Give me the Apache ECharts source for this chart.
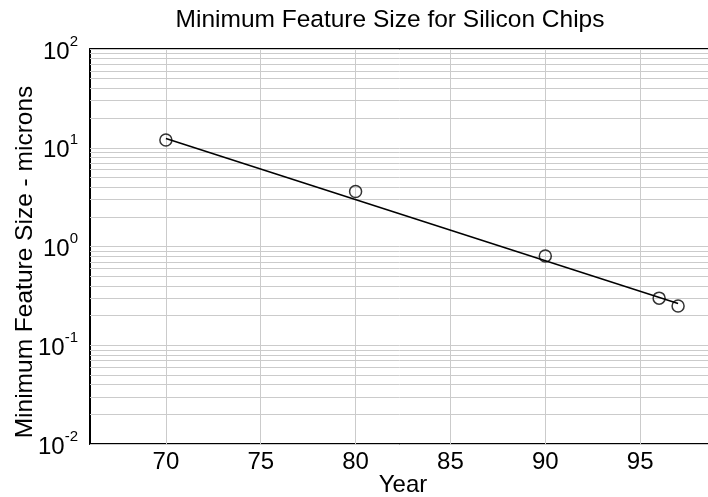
<!DOCTYPE html>
<html>
<head>
<meta charset="utf-8">
<script src="https://cdn.jsdelivr.net/npm/echarts@6/dist/echarts.min.js"></script>
<style>
  html, body { margin: 0; padding: 0; background: #ffffff; }
  #chart { width: 708px; height: 497px; }
</style>
</head>
<body>
<div id="chart"></div>
<script>
// Measured minimum feature sizes (microns) by year
const years = [70, 80, 90, 96, 97];
const featureSize = [12, 3.6, 0.8, 0.3, 0.25];

// Exponential trend line end points
const fitYears = [70, 97];
const fitSize = [12.4, 0.265];

// Axis ticks
const xTicks = [70, 75, 80, 85, 90, 95, 100];
const yDecades = [0.01, 0.1, 1, 10, 100];

// Minor log grid positions: 2..9 within each decade
const yMinor = [];
for (let d = 0; d < yDecades.length - 1; d++) {
  for (let k = 2; k <= 9; k++) yMinor.push(+(k * yDecades[d]).toPrecision(3));
}

const FONT = '"Liberation Sans", Arial, Helvetica, sans-serif';
const GRID_COLOR = '#cbcbcb';

const chart = echarts.init(document.getElementById('chart'), null, { renderer: 'canvas' });

const gridLines = []
  .concat(xTicks.map(v => ({ xAxis: v })))
  .concat(yMinor.map(v => ({ yAxis: v })))
  .concat(yDecades.map(v => ({ yAxis: v })));

chart.setOption({
  animation: false,
  backgroundColor: '#ffffff',
  // the plot box runs past the right edge of the canvas
  grid: { left: 90, top: 49, width: 645, height: 395, outerBoundsMode: 'none', containLabel: false },
  xAxis: [
    {
      type: 'value', min: 66, max: 100, position: 'bottom',
      axisLine: { show: true, onZero: false, lineStyle: { color: '#000', width: 2 } },
      axisTick: { show: true, inside: true, length: 6, customValues: xTicks, lineStyle: { color: '#000', width: 1 } },
      axisLabel: { show: true, customValues: xTicks, margin: 6, color: '#000', fontSize: 24, fontFamily: FONT },
      splitLine: { show: false }
    },
    {
      type: 'value', min: 66, max: 100, position: 'top',
      axisLine: { show: true, onZero: false, lineStyle: { color: '#000', width: 2 } },
      axisTick: { show: true, inside: true, length: 6, customValues: xTicks, lineStyle: { color: '#000', width: 1 } },
      axisLabel: { show: false },
      splitLine: { show: false }
    }
  ],
  yAxis: {
    type: 'log', logBase: 10, min: 0.01, max: 100,
    axisLine: { show: true, onZero: false, lineStyle: { color: '#000', width: 2 } },
    axisTick: { show: true, inside: true, length: 6, lineStyle: { color: '#000', width: 1 } },
    axisLabel: {
      show: true, margin: 12, color: '#000',
      formatter: function (v) {
        const e = Math.round(Math.log10(v));
        return '{b|10}{s|' + e + '}';
      },
      rich: {
        b: { fontSize: 24, fontFamily: FONT, color: '#000', lineHeight: 30, verticalAlign: 'bottom' },
        s: { fontSize: 15, fontFamily: FONT, color: '#000', lineHeight: 30, verticalAlign: 'top' }
      }
    },
    splitLine: { show: false },
    minorTick: { show: false }
  },
  series: [
    {
      name: 'grid',
      type: 'line',
      data: [],
      silent: true,
      z: 0,
      markLine: {
        silent: true,
        symbol: ['none', 'none'],
        animation: false,
        label: { show: false },
        emphasis: { disabled: true },
        lineStyle: { color: GRID_COLOR, width: 1, type: 'solid' },
        data: gridLines
      }
    },
    {
      name: 'trend',
      type: 'line',
      data: fitYears.map((x, i) => [x, fitSize[i]]),
      showSymbol: false,
      symbol: 'none',
      lineStyle: { color: '#000', width: 1.5, type: 'solid' },
      z: 5
    },
    {
      name: 'size',
      type: 'scatter',
      data: years.map((x, i) => [x, featureSize[i]]),
      symbol: 'circle',
      symbolSize: 12,
      itemStyle: { color: 'rgba(0,0,0,0)', borderColor: '#000', borderWidth: 1.5 },
      z: 6
    }
  ],
  graphic: [
    {
      type: 'text', x: 390, y: 20,
      style: { text: 'Minimum Feature Size for Silicon Chips', font: '24.5px ' + FONT, fill: '#000', align: 'center', verticalAlign: 'middle' }
    },
    {
      type: 'text', x: 403, y: 485,
      style: { text: 'Year', font: '24px ' + FONT, fill: '#000', align: 'center', verticalAlign: 'middle' }
    },
    {
      type: 'text', x: 25, y: 262, rotation: Math.PI / 2,
      style: { text: 'Minimum Feature Size - microns', font: '24.5px ' + FONT, fill: '#000', align: 'center', verticalAlign: 'middle' }
    }
  ]
});
</script>
</body>
</html>
